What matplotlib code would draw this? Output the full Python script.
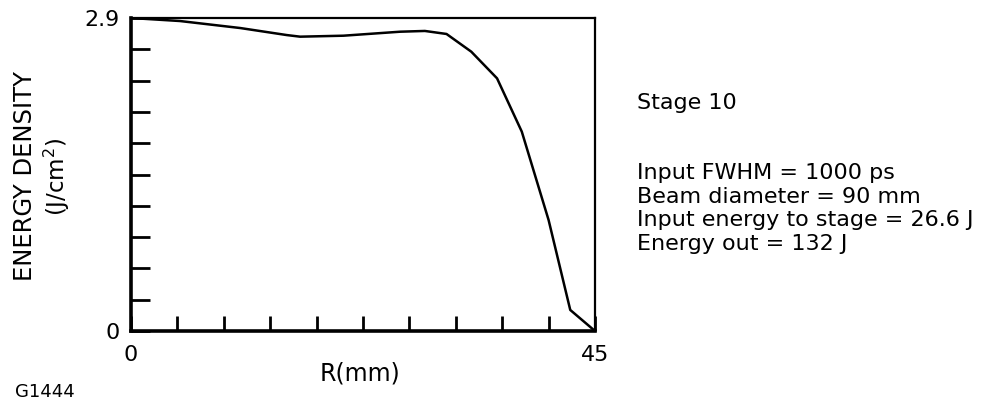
import matplotlib
matplotlib.use('Agg')
import matplotlib.pyplot as plt
import numpy as np

plt.rcParams['font.family'] = ['DejaVu Sans']

# energy density profile, stage 10
r_mm = [0.0, 4.75, 10.6, 15.1, 16.4, 20.6, 26.1, 28.5, 30.6, 33.0, 35.5, 37.9, 40.5, 42.6, 45.0]
edens = [2.90, 2.872, 2.807, 2.742, 2.727, 2.736, 2.773, 2.780, 2.752, 2.588, 2.341, 1.847, 1.028, 0.195, 0.0]

info_title = 'Stage 10'
info_lines = ['Input FWHM = 1000 ps',
              'Beam diameter = 90 mm',
              'Input energy to stage = 26.6 J',
              'Energy out = 132 J']

W, H = 993, 400
fig = plt.figure(figsize=(W/100., H/100.), dpi=100)
ax = fig.add_axes([131./W, 1 - 331./H, (595. - 131.)/W, (331. - 18.)/H])

ax.plot(r_mm, edens, color='k', linewidth=1.8)
ax.set_xlim(0., 45.)
ax.set_ylim(0., 2.9)

ax.set_xticks(np.linspace(0., 45., 11))
ax.set_yticks(np.linspace(0., 2.9, 11))
ax.set_xticklabels(['0'] + ['']*9 + ['45'])
ax.set_yticklabels(['0'] + ['']*9 + ['2.9'])
ax.tick_params(axis='x', direction='in', length=11, width=2, pad=10, labelsize=16)
ax.tick_params(axis='y', direction='in', length=14, width=2, pad=8, labelsize=16)
for s in ['left', 'bottom']:
  ax.spines[s].set_linewidth(2.6)
for s in ['top', 'right']:
  ax.spines[s].set_linewidth(1.6)

fig.text(25./W, 1 - 176./H, 'ENERGY DENSITY', rotation=90, ha='center', va='center', fontsize=17.5)
fig.text(57./W, 1 - 177./H, '(J/cm$^2$)', rotation=90, ha='center', va='center', fontsize=16.5)
fig.text(360./W, 1 - 373./H, 'R(mm)', ha='center', va='center', fontsize=17)
fig.text(15./W, 1 - 392./H, 'G1444', ha='left', va='center', fontsize=13)

fig.text(637./W, 1 - 103./H, info_title, ha='left', va='center', fontsize=16)
ys = [173., 197., 220., 244.]
for y, t in zip(ys, info_lines):
  fig.text(637./W, 1 - y/H, t, ha='left', va='center', fontsize=16)

fig.savefig('out.png', dpi=100)
